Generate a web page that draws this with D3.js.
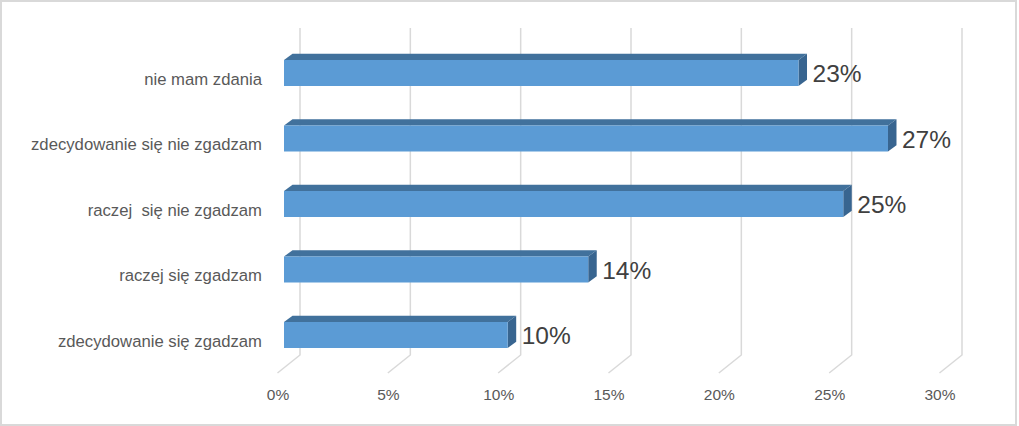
<!DOCTYPE html>
<html>
<head>
<meta charset="utf-8">
<script src="https://cdn.jsdelivr.net/npm/d3@7"></script>
<style>
  body { margin: 0; background: #fff; }
  svg text { font-family: "Liberation Sans", Arial, sans-serif; white-space: pre; }
</style>
</head>
<body>
<div id="chart"></div>
<script>
// categories top to bottom, values in percent
const categories = [
    "nie mam zdania",
    "zdecydowanie się nie zgadzam",
    "raczej  się nie zgadzam",
    "raczej się zgadzam",
    "zdecydowanie się zgadzam"
];
const values = [23, 27, 25, 13.6, 10];
const ticks = [0, 5, 10, 15, 20, 25, 30];

const width = 1019, height = 426;

const svg = d3.select("#chart").append("svg")
    .attr("width", width)
    .attr("height", height);

// chart border
svg.append("rect")
    .attr("x", 1).attr("y", 1)
    .attr("width", 1015).attr("height", 424)
    .attr("fill", "#fff")
    .attr("stroke", "#d9d9d9")
    .attr("stroke-width", 2);

// --- scales ---
const x = d3.scaleLinear().domain([0, 30]).range([284, 284 + 22.37 * 30]);      // bar front faces
const xWall = d3.scaleLinear().domain([0, 30]).range([300, 962]);               // back wall gridlines
const xFloor = d3.scaleLinear().domain([0, 30]).range([277.5, 939.5]);          // front floor edge
const y = d3.scalePoint().domain(categories).range([73, 335]);

const barH = 26;
const dx = 8.5, dy = -6.3;          // bar depth
const wallTop = 28, wallBottom = 355, floorBottom = 373;

// --- gridlines (wall + floor) ---
const grid = svg.append("g").attr("stroke", "#d9d9d9").attr("stroke-width", 1.5).attr("fill", "none");
grid.selectAll("path")
    .data(ticks)
    .join("path")
    .attr("d", d => `M${xWall(d)},${wallTop}L${xWall(d)},${wallBottom}L${xFloor(d)},${floorBottom}`);

// --- tick labels via axis ---
const axis = svg.append("g")
    .attr("transform", `translate(0,${floorBottom + 24})`)
    .call(d3.axisBottom(xFloor).tickValues(ticks).tickSize(0).tickFormat(d => d + "%"));
axis.select(".domain").remove();
axis.selectAll("text")
    .attr("dy", 0)
    .attr("fill", "#595959")
    .style("font-size", "15.5px")
    .style("font-family", "'Liberation Sans', Arial, sans-serif");

// --- bars ---
const rows = categories.map((c, i) => ({ cat: c, v: values[i] }));

const bar = svg.append("g").selectAll("g")
    .data(rows)
    .join("g");

// top face
bar.append("path")
    .attr("fill", "#41719c")
    .attr("d", d => {
        const x0 = x(0), x1 = x(d.v), yt = y(d.cat) - barH / 2;
        return `M${x0},${yt}L${x1},${yt}L${x1 + dx},${yt + dy}L${x0 + dx},${yt + dy}Z`;
    });

// side face
bar.append("path")
    .attr("fill", "#386590")
    .attr("d", d => {
        const x1 = x(d.v), yt = y(d.cat) - barH / 2;
        return `M${x1},${yt}L${x1 + dx},${yt + dy}L${x1 + dx},${yt + barH + dy}L${x1},${yt + barH}Z`;
    });

// front face
bar.append("rect")
    .attr("x", x(0))
    .attr("y", d => y(d.cat) - barH / 2)
    .attr("width", d => x(d.v) - x(0))
    .attr("height", barH)
    .attr("fill", "#5b9bd5");

// value labels
bar.append("text")
    .attr("x", d => x(d.v) + 14)
    .attr("y", d => y(d.cat) + 9)
    .attr("fill", "#404040")
    .style("font-size", "24.5px")
    .text(d => Math.round(d.v) + "%");

// category labels
svg.append("g").selectAll("text")
    .data(categories)
    .join("text")
    .attr("x", 262)
    .attr("y", d => y(d) + 11.5)
    .attr("text-anchor", "end")
    .attr("fill", "#595959")
    .style("font-size", "16.7px")
    .text(d => d);
</script>
</body>
</html>
